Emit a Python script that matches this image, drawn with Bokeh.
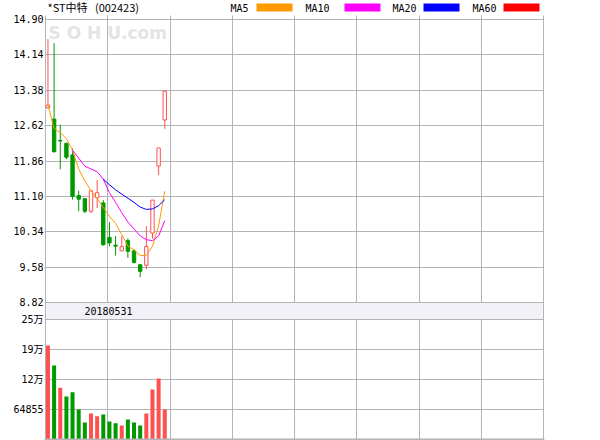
import math
from bokeh.plotting import figure
from bokeh.models import Range1d, LinearAxis, FixedTicker, Grid, Label, Span, ColumnDataSource
from bokeh.core.properties import value
from bokeh.embed import file_html
from bokeh.resources import INLINE

NAN = float("nan")

# ---------------- data ----------------
stock_title = "*ST中特\u00a0\u00a0\u00a0(002423)"
band_date = "20180531"

opens  = [13.00, 12.76, 12.30, 12.24, 11.99, 11.12, 11.05, 10.78, 11.07, 10.96,
          10.22, 10.05, 9.93, 10.15, 9.93, 9.63, 9.62, 10.31, 11.75, 12.74]
highs  = [14.48, 14.39, 12.64, 12.25, 12.13, 11.22, 11.06, 11.22, 11.45, 11.02,
          10.55, 10.25, 10.25, 10.20, 9.96, 9.65, 10.46, 11.02, 12.14, 13.36]
lows   = [13.00, 12.04, 11.68, 11.90, 11.03, 10.78, 10.74, 10.74, 10.85, 10.04,
          10.03, 9.83, 9.93, 9.78, 9.66, 9.36, 9.54, 10.19, 11.56, 12.55]
closes = [13.06, 12.06, 12.29, 11.94, 11.10, 11.04, 10.78, 11.22, 11.18, 10.06,
          10.10, 10.03, 10.02, 9.92, 9.68, 9.49, 10.02, 11.02, 12.14, 13.36]
volumes = [203000, 160000, 112000, 93000, 102000, 65000, 37000, 56000, 50000, 54000,
           39000, 35000, 30000, 43000, 37000, 30000, 56000, 108000, 132000, 65000]
vol_up = [1, 0, 1, 0, 0, 0, 0, 1, 1, 0, 0, 0, 1, 0, 0, 0, 1, 1, 1, 1]

ma5  = [13.06, 12.56, 12.47, 12.34, 12.09, 11.69, 11.43, 11.22, 11.06, 10.86,
        10.67, 10.52, 10.28, 10.03, 9.95, 9.83, 9.83, 10.03, 10.47, 11.21]
ma10 = [NAN, NAN, NAN, NAN, 12.09, 11.92, 11.75, 11.69, 11.63, 11.47,
        11.18, 10.97, 10.75, 10.55, 10.40, 10.25, 10.17, 10.15, 10.25, 10.58]
ma20 = [NAN] * 9 + [11.47, 11.35, 11.24, 11.15, 11.06, 10.97, 10.87, 10.82, 10.83, 10.90, 11.03]

price_ticks = [8.82, 9.58, 10.34, 11.10, 11.86, 12.62, 13.38, 14.14, 14.90]
price_labels = ["8.82", "9.58", "10.34", "11.10", "11.86", "12.62", "13.38", "14.14", "14.90"]
vol_ticks = [0, 64855, 129710, 194565, 259420]
vol_labels = ["", "64855", "12万", "19万", "25万"]
vol_zero_label = "0"
ma_names = ["MA5", "MA10", "MA20", "MA60"]
ma_colors = ["#ff9900", "#ff00ff", "#0000ff", "#ff0000"]

UP = "#ff5050"
DOWN = "#009900"
GRID = "#b4b4b4"
MONO = "DejaVu Sans Mono, Noto Sans CJK SC"

# ---------------- layout (pixels) ----------------
W, H = 600, 440
FL, FR = 44, 544            # frame left / right
X0PX, X1PX = 45, 543         # plot borders
N_SLOTS = 81
upx = N_SLOTS / (X1PX - X0PX)
x_start = -0.4 - (X0PX - FL) * upx
x_end = -0.4 + N_SLOTS + (FR - X1PX) * upx

P_TOP_PX, P_BOT_PX = 19, 302
k = (price_ticks[-1] - price_ticks[0]) / (P_BOT_PX - P_TOP_PX)
y_end = price_ticks[-1] + P_TOP_PX * k
y_start = price_ticks[0] - (H - P_BOT_PX) * k

V_TOP_PX, V_BOT_PX = 319, 439
m = vol_ticks[-1] / (V_BOT_PX - V_TOP_PX)
v_start = -(H - V_BOT_PX) * m
v_end = vol_ticks[-1] + V_TOP_PX * m


def xpx(px):
    return -0.4 + (px - X0PX) * upx


def ypx(py):
    return y_end - py * k


def vpx(py):
    return v_end - py * m


def v2p(v):
    return y_start + (v - v_start) / (v_end - v_start) * (y_end - y_start)


p = figure(width=W, height=H, x_range=Range1d(x_start, x_end), y_range=Range1d(y_start, y_end),
           output_backend="svg", toolbar_location=None, x_axis_type=None, y_axis_type=None,
           min_border_left=FL, min_border_right=W - FR, min_border_top=0, min_border_bottom=0)
p.outline_line_color = None
p.background_fill_color = "#ffffff"
p.border_fill_color = "#ffffff"
p.extra_y_ranges = {"vol": Range1d(v_start, v_end)}

# ticks / grid
ytick_vals = [v2p(v) for v in vol_ticks] + price_ticks
overrides = {}
for v, lab in zip(vol_ticks, vol_labels):
    overrides[v2p(v)] = lab
for t, lab in zip(price_ticks, price_labels):
    overrides[t] = lab
yticker = FixedTicker(ticks=ytick_vals)
yaxis = LinearAxis(ticker=yticker, major_label_overrides=overrides, axis_line_color=None,
                   major_tick_line_color=None, minor_tick_line_color=None,
                   major_tick_in=0, major_tick_out=0, minor_tick_in=0, minor_tick_out=0,
                   major_label_standoff=1, major_label_text_font=MONO,
                   major_label_text_font_size="10px", major_label_text_color="#000000")
p.add_layout(yaxis, "left")

xticker = FixedTicker(ticks=[-0.4 + N_SLOTS / 8 * j for j in range(9)])
p.add_layout(Grid(dimension=0, ticker=xticker, grid_line_color=GRID, grid_line_width=1))
p.add_layout(Grid(dimension=1, ticker=yticker, grid_line_color=GRID, grid_line_width=1))
p.add_layout(Span(location=0, dimension="width", y_range_name="vol", line_color=GRID, line_width=2))

# watermark
p.text(x=[xpx(48)], y=[ypx(32.5)], text=["S O H U.com"], text_color="#e4e4e4",
       text_font=value("DejaVu Sans"), text_font_size="17px", text_font_style="bold",
       text_baseline="middle", text_align="left", level="image")

# white header strip (hides grid stubs above the chart)
p.quad(left=[x_start], right=[x_end], bottom=[ypx(15)], top=[y_end], fill_color="#ffffff", line_color=None)

# title & legend
p.text(x=[xpx(47)], y=[ypx(6.7)], text=[stock_title], text_font=value("Noto Sans CJK SC"),
       text_font_size="11px", text_baseline="middle", text_align="left", text_color="#000000")
leg_text_px = [230, 305, 392, 472]
leg_box_px = [(256, 292), (344, 380), (423, 459), (503, 539)]
p.text(x=[xpx(v) for v in leg_text_px], y=[ypx(7.5)] * 4, text=ma_names,
       text_font=value(MONO), text_font_size="10px", text_baseline="middle", text_align="left",
       text_color="#000000")
p.quad(left=[xpx(a) for a, b in leg_box_px], right=[xpx(b) for a, b in leg_box_px],
       top=[ypx(3)] * 4, bottom=[ypx(11)] * 4, fill_color=ma_colors, line_color=None)

# band between panels
p.quad(left=[xpx(X0PX + 1)], right=[xpx(X1PX - 1)], bottom=[vpx(V_TOP_PX - 0.5)], top=[vpx(P_BOT_PX + 0.5)],
       y_range_name="vol", fill_color="#f1f1f7", line_color=None)
p.text(x=[xpx(108)], y=[vpx(310.5)], text=[band_date], y_range_name="vol",
       text_font=value(MONO), text_font_size="10px", text_baseline="middle", text_align="center",
       text_color="#000000")
p.add_layout(Label(x=x_start, y=0, y_range_name="vol", text=vol_zero_label, text_align="right",
                   text_baseline="middle", x_offset=-1, y_offset=6, text_font=MONO,
                   text_font_size="10px", text_color="#000000"))

# candles
idx = list(range(len(closes)))
is_up = [c > o for o, c in zip(opens, closes)]
src = ColumnDataSource(dict(
    x=idx, o=opens, h=highs, l=lows, c=closes,
    top=[max(o, c) for o, c in zip(opens, closes)],
    bot=[min(o, c) for o, c in zip(opens, closes)],
    col=[UP if u else DOWN for u in is_up],
    fill=["#ffffff" if u else DOWN for u in is_up],
))
p.segment(x0="x", y0="l", x1="x", y1="h", source=src, line_color="col", line_width=1)
p.vbar(x="x", top="top", bottom="bot", width=0.55, source=src, fill_color="fill", line_color="col",
       line_width=1)

# moving averages
for ys, col in zip([ma5, ma10, ma20], ma_colors):
    p.line(x=idx, y=ys, line_color=col, line_width=1)

# volume
vsrc = ColumnDataSource(dict(x=idx, v=volumes, col=[UP if u else DOWN for u in vol_up]))
p.vbar(x="x", top="v", bottom=0, width=0.65, source=vsrc, fill_color="col", line_color=None,
       y_range_name="vol")

open("out.html", "w").write(file_html(p, INLINE))
